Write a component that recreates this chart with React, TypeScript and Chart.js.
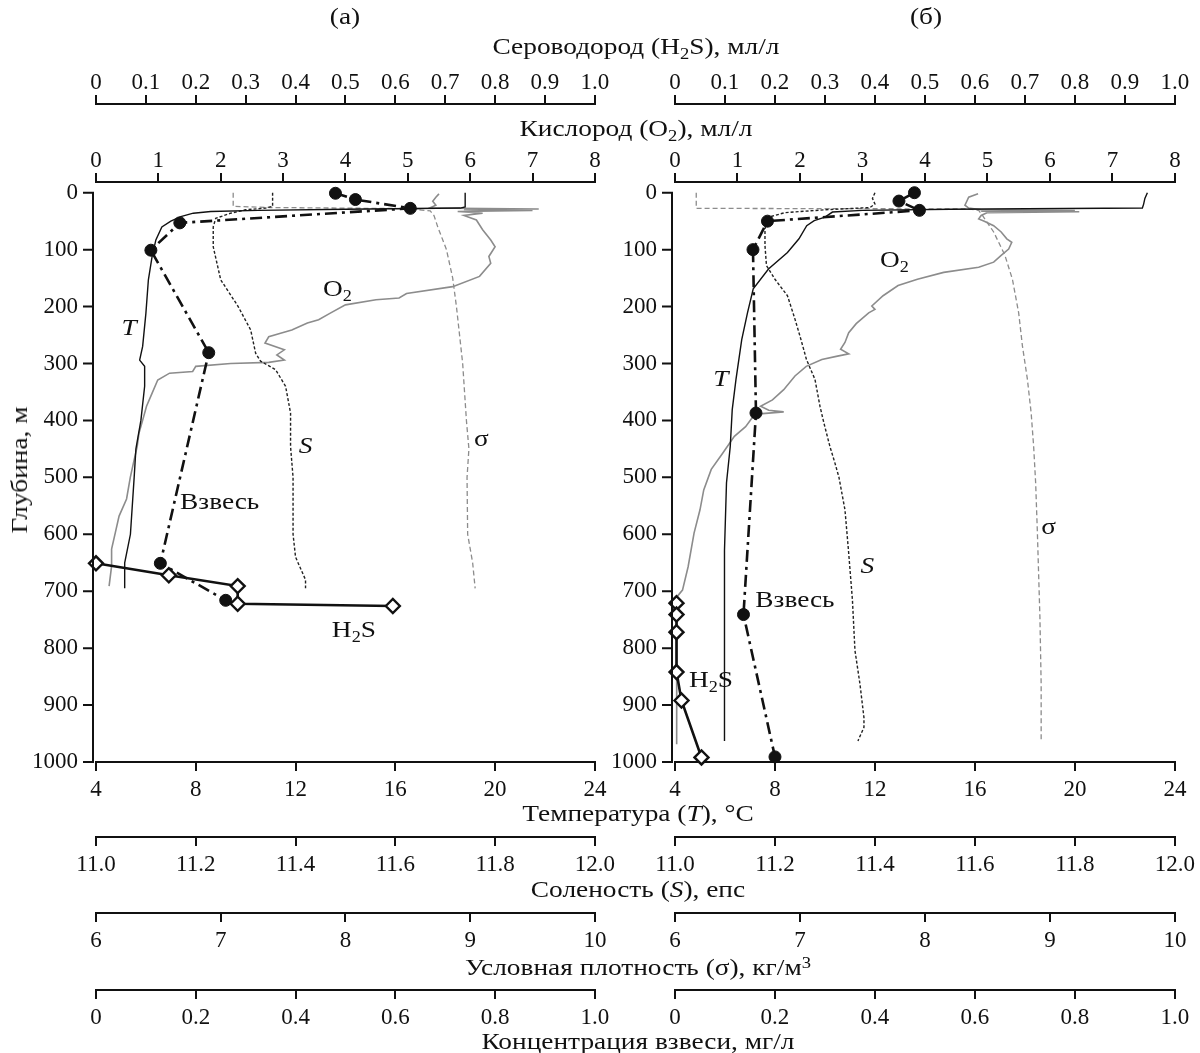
import React, { useEffect, useRef } from 'react';
import { Chart, registerables } from 'chart.js';

Chart.register(...registerables);

const FONT = '"Liberation Serif", "Times New Roman", Times, serif';

// ---------- Panel (а) ----------
const tDepthA = [0, 25, 27, 29, 31, 33, 36, 42, 50, 60, 83, 112, 153, 212, 270, 294, 305, 340, 400, 450, 500, 600, 650, 695];
const tValA = [18.8, 18.8, 18.6, 14.0, 10.5, 8.6, 7.9, 7.4, 7.0, 6.64, 6.4, 6.25, 6.1, 6.0, 5.87, 5.75, 5.95, 5.95, 5.8, 5.6, 5.53, 5.38, 5.15, 5.15];

const sDepthA = [0, 24, 27, 30, 36, 45, 60, 95, 153, 200, 241, 282, 296, 311, 340, 387, 446, 500, 550, 600, 640, 680, 695];
const sValA = [11.354, 11.354, 11.34, 11.3, 11.27, 11.24, 11.235, 11.235, 11.25, 11.285, 11.31, 11.32, 11.33, 11.36, 11.38, 11.39, 11.39, 11.395, 11.395, 11.395, 11.4, 11.42, 11.42];

const sigDepthA = [0, 24, 26, 28, 32, 40, 60, 100, 150, 200, 300, 400, 450, 500, 600, 650, 695];
const sigValA = [7.1, 7.1, 7.4, 8.5, 8.68, 8.71, 8.74, 8.81, 8.86, 8.89, 8.94, 8.97, 8.99, 8.975, 8.98, 9.02, 9.04];

const o2DepthA = [2, 8, 15, 22, 27, 28.5, 29.5, 31, 33, 36, 40, 48, 65, 83, 95, 112, 124, 147, 165, 177, 185, 188, 197, 212, 223, 229, 241, 247, 253, 264, 276, 285, 294, 298, 300, 305, 314, 317, 329, 352, 375, 399, 422, 446, 475, 500, 538, 568, 597, 626, 656, 691];
const o2ValA = [5.5, 5.45, 5.4, 5.45, 5.35, 7.1, 5.9, 7.0, 5.8, 6.2, 5.9, 6.1, 6.2, 6.33, 6.4, 6.3, 6.33, 6.15, 5.72, 4.98, 4.86, 4.49, 4.0, 3.75, 3.57, 3.39, 3.14, 2.96, 2.77, 2.71, 3.02, 2.9, 3.02, 2.77, 2.16, 1.6, 1.55, 1.18, 0.99, 0.9, 0.81, 0.75, 0.69, 0.66, 0.6, 0.55, 0.49, 0.37, 0.31, 0.25, 0.25, 0.21];

const cDepthA = [1, 12, 27.5, 53, 101, 281, 651, 716];
const cValA = [0.48, 0.52, 0.63, 0.168, 0.11, 0.226, 0.129, 0.26];

const hDepthA = [651, 672, 691, 722, 726];
const hValA = [0.0, 0.146, 0.284, 0.284, 0.595];

// ---------- Panel (б) ----------
const tDepthB = [0, 10, 20, 27, 29, 31, 34, 43, 49, 58, 81, 105, 134, 169, 211, 258, 328, 381, 446, 510, 628, 745, 963];
const tValB = [22.9, 22.8, 22.75, 22.7, 15.0, 11.5, 10.3, 10.0, 9.57, 9.27, 8.96, 8.5, 7.74, 7.13, 6.9, 6.67, 6.44, 6.29, 6.21, 6.06, 5.98, 5.98, 5.98];

const sDepthB = [0, 10, 20, 26, 30, 35, 43, 63, 93, 128, 152, 181, 222, 258, 293, 328, 375, 405, 446, 475, 500, 557, 628, 716, 804, 863, 922, 939, 963];
const sValB = [11.4, 11.395, 11.4, 11.39, 11.3, 11.22, 11.187, 11.18, 11.18, 11.183, 11.2, 11.225, 11.24, 11.252, 11.263, 11.28, 11.29, 11.298, 11.31, 11.32, 11.328, 11.34, 11.347, 11.355, 11.36, 11.37, 11.378, 11.378, 11.366];

const sigDepthB = [0, 27.5, 28.5, 31, 40, 69, 110, 152, 211, 269, 328, 387, 446, 510, 598, 745, 863, 963];
const sigValB = [6.17, 6.17, 8.35, 8.43, 8.46, 8.55, 8.64, 8.7, 8.75, 8.78, 8.82, 8.85, 8.87, 8.886, 8.9, 8.92, 8.93, 8.93];

const o2DepthB = [2, 8, 15, 22, 27, 30, 31.5, 32.5, 33.5, 35, 40, 46, 50, 58, 69, 81, 87, 99, 110, 122, 131, 140, 152, 163, 181, 199, 205, 211, 230, 246, 263, 275, 283, 287, 293, 305, 322, 346, 364, 375, 382, 385, 388, 393, 411, 428, 458, 486, 522, 557, 598, 657, 698, 710, 745, 863, 969];
const o2ValB = [4.85, 4.7, 4.67, 4.64, 4.7, 4.9, 6.4, 4.9, 6.47, 5.0, 4.9, 4.86, 4.95, 5.1, 5.22, 5.31, 5.39, 5.34, 5.22, 5.1, 4.86, 4.3, 3.88, 3.57, 3.33, 3.15, 3.2, 3.1, 2.9, 2.78, 2.72, 2.65, 2.78, 2.6, 2.35, 2.1, 1.92, 1.74, 1.56, 1.37, 1.5, 1.74, 1.4, 1.25, 1.13, 0.95, 0.76, 0.58, 0.46, 0.4, 0.305, 0.21, 0.12, 0.03, 0.03, 0.02, 0.03];

const cDepthB = [0, 14.7, 31, 50, 100, 387, 741, 991];
const cValB = [0.479, 0.448, 0.489, 0.185, 0.156, 0.162, 0.137, 0.2];

const hDepthB = [721, 741, 772, 842, 892, 992];
const hValB = [0.003, 0.003, 0.003, 0.003, 0.013, 0.053];

// ---------- Axis ticks ----------
const depthTicks = [0, 100, 200, 300, 400, 500, 600, 700, 800, 900, 1000];

type Seg = [string, string?];
type Lab = { t: Seg[]; ax: string; x: number; y: number };

const labelsA: Lab[] = [
  { t: [['T', 'i']], ax: 'xT', x: 5.33, y: 238 },
  { t: [['O'], ['2', 'sub']], ax: 'xO', x: 3.87, y: 171 },
  { t: [['S', 'i']], ax: 'xS', x: 11.42, y: 446 },
  { t: [['σ']], ax: 'xSig', x: 9.09, y: 434 },
  { t: [['Взвесь']], ax: 'xC', x: 0.248, y: 544 },
  { t: [['H'], ['2', 'sub'], ['S']], ax: 'xH', x: 0.517, y: 770 },
];
const labelsB: Lab[] = [
  { t: [['T', 'i']], ax: 'xT', x: 5.83, y: 328 },
  { t: [['O'], ['2', 'sub']], ax: 'xO', x: 3.51, y: 119 },
  { t: [['S', 'i']], ax: 'xS', x: 11.385, y: 657 },
  { t: [['σ']], ax: 'xSig', x: 8.99, y: 589 },
  { t: [['Взвесь']], ax: 'xC', x: 0.24, y: 716 },
  { t: [['H'], ['2', 'sub'], ['S']], ax: 'xH', x: 0.072, y: 857 },
];

const mk = (d: number[], v: number[]) => d.map((y, i) => ({ x: v[i], y }));

const FS = 23; // tick labels
const LFS = 24; // in-plot labels and titles
const SX = 1.14; // horizontal stretch of text, as in the reference

const inLabelPlugin = {
  id: 'inlabels',
  afterDatasetsDraw(chart: any, _a: any, opts: any) {
    const ctx = chart.ctx;
    const items: Lab[] = opts.items || [];
    for (const l of items) {
      const px = chart.scales[l.ax].getPixelForValue(l.x);
      const py = chart.scales.y.getPixelForValue(l.y);
      const fontOf = (s: Seg) =>
        s[1] === 'i' ? `italic ${LFS}px ${FONT}` : s[1] === 'sub' ? `${Math.round(LFS * 0.68)}px ${FONT}` : `${LFS}px ${FONT}`;
      ctx.save();
      ctx.fillStyle = '#111';
      ctx.textBaseline = 'middle';
      ctx.textAlign = 'left';
      ctx.translate(px, py);
      ctx.scale(SX, 1);
      let w = 0;
      for (const s of l.t) { ctx.font = fontOf(s); w += ctx.measureText(s[0]).width; }
      let x = -w / 2;
      for (const s of l.t) {
        ctx.font = fontOf(s);
        ctx.fillText(s[0], x, s[1] === 'sub' ? 7 : 0);
        x += ctx.measureText(s[0]).width;
      }
      ctx.restore();
    }
  },
};

const yAxisPlugin = {
  id: 'yaxisline',
  afterDraw(chart: any) {
    const ctx = chart.ctx;
    const ys = chart.scales.y;
    const x = chart.chartArea.left - 3;
    ctx.save();
    ctx.strokeStyle = '#111';
    ctx.lineWidth = 2;
    ctx.beginPath();
    ctx.moveTo(x, ys.getPixelForValue(0) - 1);
    ctx.lineTo(x, ys.getPixelForValue(1000) + 1);
    for (const d of depthTicks) {
      const y = ys.getPixelForValue(d);
      ctx.moveTo(x - 10, y);
      ctx.lineTo(x + 1, y);
    }
    ctx.stroke();
    ctx.restore();
  },
};

function xAxis(pos: string, weight: number, min: number, max: number, step: number, fmt: (v: number) => string, h: number) {
  return {
    type: 'linear',
    position: pos,
    weight,
    min,
    max,
    ticks: {
      stepSize: step,
      autoSkip: false,
      maxRotation: 0,
      font: { family: FONT, size: FS },
      color: '#111',
      padding: pos === 'top' ? -2 : 5,
      callback: (v: any) => fmt(Number(v)),
    },
    grid: { drawOnChartArea: false, drawTicks: true, tickLength: 9, color: '#111', lineWidth: 2 },
    border: { display: true, color: '#111', width: 2 },
    afterFit: (s: any) => { s.height = h; },
  };
}

const f1 = (v: number) => (Math.abs(v) < 1e-9 ? '0' : v.toFixed(1));
const f0 = (v: number) => String(Math.round(v));

function buildChart(canvas: HTMLCanvasElement, p: any) {
  const lineDs = (d: number[], v: number[], ax: string, color: string, width: number, dash: number[]) => ({
    data: mk(d, v), xAxisID: ax, yAxisID: 'y', showLine: true, borderColor: color, borderWidth: width,
    borderDash: dash, pointRadius: 0, tension: 0, fill: false, clip: false,
  });
  return new Chart(canvas, {
    type: 'scatter',
    data: {
      datasets: [
        {
          data: mk(p.hD, p.hV), xAxisID: 'xH', yAxisID: 'y', showLine: true, borderColor: '#111', borderWidth: 2.6,
          pointStyle: 'rectRot', pointRadius: 7, pointBackgroundColor: '#fff', pointBorderColor: '#111',
          pointBorderWidth: 2.4, tension: 0, clip: false,
        },
        {
          data: mk(p.cD, p.cV), xAxisID: 'xC', yAxisID: 'y', showLine: true, borderColor: '#111', borderWidth: 2.6,
          borderDash: [12, 5, 3, 5], pointStyle: 'circle', pointRadius: 6, pointBackgroundColor: '#111',
          pointBorderColor: '#111', pointBorderWidth: 1, tension: 0, clip: false,
        },
        lineDs(p.tD, p.tV, 'xT', '#111', 1.4, []),
        lineDs(p.sD, p.sV, 'xS', '#222', 1.4, [3, 2]),
        lineDs(p.sigD, p.sigV, 'xSig', '#8c8c8c', 1.3, [5, 3]),
        lineDs(p.oD, p.oV, 'xO', '#8c8c8c', 1.6, []),
      ],
    } as any,
    options: {
      animation: false,
      responsive: false,
      maintainAspectRatio: false,
      events: [],
      layout: { padding: { top: 0, left: 0, right: p.padR, bottom: 0 } },
      plugins: {
        legend: { display: false },
        tooltip: { enabled: false },
        inlabels: { items: p.labels },
      } as any,
      scales: {
        y: {
          type: 'linear',
          position: 'left',
          reverse: true,
          min: -18.8,
          max: 1000,
          afterBuildTicks: (s: any) => {
            s.ticks = depthTicks.map((v) => ({ value: v }));
          },
          ticks: {
            font: { family: FONT, size: FS }, color: '#111', padding: 18, autoSkip: false,
            callback: (v: any) => String(Math.round(Number(v))),
          },
          grid: { drawOnChartArea: false, drawTicks: false },
          border: { display: false },
          afterFit: (s: any) => { s.width = p.yW; },
        },
        xH: xAxis('top', 2, 0, 1, 0.1, f1, 104),
        xO: xAxis('top', 1, 0, 8, 1, f0, 78),
        xT: xAxis('bottom', 1, 4, 24, 4, f0, 75),
        xS: xAxis('bottom', 2, 11, 12, 0.2, (v) => v.toFixed(1), 76),
        xSig: xAxis('bottom', 3, 6, 10, 1, f0, 77),
        xC: xAxis('bottom', 4, 0, 1, 0.2, f1, 63),
      } as any,
    },
    plugins: [inLabelPlugin, yAxisPlugin],
  });
}

const T = ({ x, y, children, rot }: any) => (
  <div
    style={{
      position: 'absolute', left: x, top: y, whiteSpace: 'nowrap', fontSize: LFS, lineHeight: 1,
      transform: `translate(-50%, -50%)${rot ? ' rotate(-90deg)' : ''} scaleX(${SX})`, color: '#111',
    }}
  >
    {children}
  </div>
);

const sub = { fontSize: '0.68em', position: 'relative' as const, top: '0.3em', lineHeight: 0 };
const sup = { fontSize: '0.68em', position: 'relative' as const, top: '-0.45em', lineHeight: 0 };

export default function App() {
  const leftRef = useRef<HTMLCanvasElement>(null);
  const rightRef = useRef<HTMLCanvasElement>(null);
  useEffect(() => {
    Chart.defaults.font.family = FONT;
    const a = buildChart(leftRef.current!, {
      hD: hDepthA, hV: hValA, cD: cDepthA, cV: cValA, tD: tDepthA, tV: tValA, sD: sDepthA, sV: sValA,
      sigD: sigDepthA, sigV: sigValA, oD: o2DepthA, oV: o2ValA, labels: labelsA, yW: 96, padR: 24,
    });
    const b = buildChart(rightRef.current!, {
      hD: hDepthB, hV: hValB, cD: cDepthB, cV: cValB, tD: tDepthB, tV: tValB, sD: sDepthB, sV: sValB,
      sigD: sigDepthB, sigV: sigValB, oD: o2DepthB, oV: o2ValB, labels: labelsB, yW: 75, padR: 23,
    });
    return () => { a.destroy(); b.destroy(); };
  }, []);
  return (
    <div style={{ position: 'absolute', left: 0, top: 0, width: 1200, height: 1053, background: '#fff', fontFamily: FONT, overflow: 'hidden' }}>
      <canvas ref={leftRef} width={620} height={1053} style={{ position: 'absolute', left: 0, top: 0, width: 620, height: 1053 }} />
      <canvas ref={rightRef} width={600} height={1053} style={{ position: 'absolute', left: 600, top: 0, width: 600, height: 1053 }} />
      <T x={345} y={16}>(а)</T>
      <T x={926} y={16}>(б)</T>
      <T x={636} y={46}>Сероводород (H<span style={sub}>2</span>S), мл/л</T>
      <T x={636} y={128}>Кислород (O<span style={sub}>2</span>), мл/л</T>
      <T x={638} y={813}>Температура (<i>T</i>), °C</T>
      <T x={638} y={889}>Соленость (<i>S</i>), епс</T>
      <T x={638} y={967}>Условная плотность (σ), кг/м<span style={sup}>3</span></T>
      <T x={638} y={1041}>Концентрация взвеси, мг/л</T>
      <T x={19} y={470} rot>Глубина, м</T>
    </div>
  );
}
